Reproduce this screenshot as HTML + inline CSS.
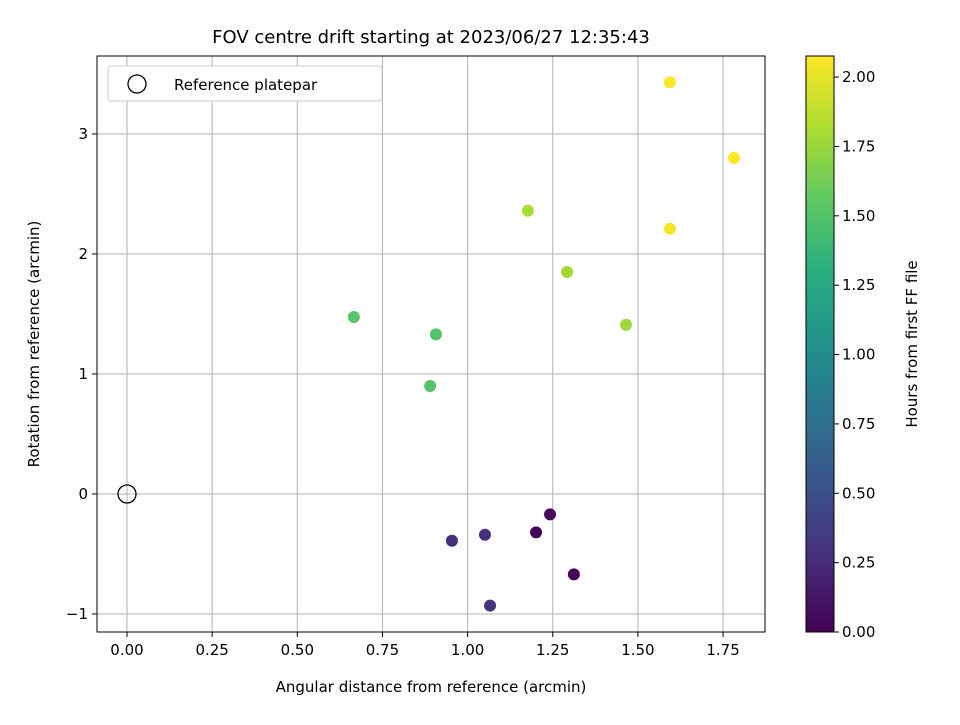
<!DOCTYPE html>
<html><head><meta charset="utf-8"><style>body{margin:0;background:#fff}text{font-family:"DejaVu Sans","Liberation Sans",sans-serif}</style></head>
<body>
<svg id="c" width="960" height="720" xmlns="http://www.w3.org/2000/svg">
<defs><linearGradient id="vir" x1="0" y1="1" x2="0" y2="0">
<stop offset="0" stop-color="#440154"/><stop offset="0.125" stop-color="#472d7b"/><stop offset="0.25" stop-color="#3b528b"/><stop offset="0.375" stop-color="#2c728e"/><stop offset="0.5" stop-color="#21918c"/><stop offset="0.625" stop-color="#28ae80"/><stop offset="0.75" stop-color="#5ec962"/><stop offset="0.875" stop-color="#addc30"/><stop offset="1" stop-color="#fde725"/></linearGradient></defs>
</svg>
<script>
const xs=[1.594,1.782,1.594,1.177,1.292,1.465,0.666,0.907,0.890,1.242,1.201,1.312,1.051,0.954,1.066];
const ys=[3.43,2.80,2.21,2.36,1.85,1.41,1.475,1.33,0.90,-0.17,-0.32,-0.67,-0.34,-0.39,-0.93];
const hrs=[2.07,2.07,2.05,1.80,1.78,1.77,1.52,1.50,1.50,0.05,0.03,0.02,0.28,0.27,0.30];
const xTicks=[0,0.25,0.5,0.75,1,1.25,1.5,1.75];
const yTicks=[-1,0,1,2,3];
const cTicks=[0,0.25,0.5,0.75,1,1.25,1.5,1.75,2];
const cMax=2.076;
const L=97,R=765,T=56,B=632;
const X=v=>127+v*340.6, Y=v=>494-v*120, C=v=>632-v*(576/cMax);
const svg=document.getElementById('c'),NS='http://www.w3.org/2000/svg';
function el(t,a,p){const e=document.createElementNS(NS,t);for(const k in a)e.setAttribute(k,a[k]);(p||svg).appendChild(e);return e;}
const vir=[[68,1,84],[71,45,123],[59,82,139],[44,114,142],[33,145,140],[40,174,128],[94,201,98],[173,220,48],[253,231,37]];
function col(v){let t=Math.max(0,Math.min(1,v/cMax))*8,i=Math.min(7,Math.floor(t)),f=t-i;const a=vir[i],b=vir[i+1];return 'rgb('+a.map((c,k)=>Math.round(c+(b[k]-c)*f)).join(',')+')';}
let g;
xTicks.forEach(v=>{g=el('line',{x1:X(v),x2:X(v),y1:T,y2:B,stroke:'#b0b0b0','stroke-width':1});
el('line',{x1:X(v),x2:X(v),y1:B,y2:B+5,stroke:'#000'});
g=el('text',{x:X(v),y:B+23,'text-anchor':'middle','font-size':'15'});g.textContent=v.toFixed(2);});
yTicks.forEach(v=>{g=el('line',{x1:L,x2:R,y1:Y(v),y2:Y(v),stroke:'#b0b0b0','stroke-width':1});
el('line',{x1:L-5,x2:L,y1:Y(v),y2:Y(v),stroke:'#000'});
g=el('text',{x:L-9,y:Y(v)+5,'text-anchor':'end','font-size':'15'});g.textContent=v<0?'\u2212'+(-v):v;});
g=el('circle',{cx:X(0),cy:Y(0),r:9,fill:'none',stroke:'#000','stroke-width':1.3});
xs.forEach((x,i)=>{g=el('circle',{cx:X(x),cy:Y(ys[i]),r:6,fill:col(hrs[i])});});
g=el('rect',{x:L,y:T,width:R-L,height:B-T,fill:'none',stroke:'#000'});
g=el('g',{});
el('rect',{x:108,y:66,width:274,height:35,rx:3,fill:'#fff',stroke:'#ccc'},g);
el('circle',{cx:137,cy:84,r:9,fill:'none',stroke:'#000','stroke-width':1.3},g);
const lt=el('text',{x:174,y:90,'font-size':'15'},g);lt.textContent='Reference platepar';
g=el('text',{x:431,y:43,'text-anchor':'middle','font-size':'18'});g.textContent='FOV centre drift starting at 2023/06/27 12:35:43';
g=el('text',{x:431,y:692,'text-anchor':'middle','font-size':'15'});g.textContent='Angular distance from reference (arcmin)';
g=el('text',{x:39,y:344,'text-anchor':'middle','font-size':'15',transform:'rotate(-90 39 344)'});g.textContent='Rotation from reference (arcmin)';
g=el('rect',{x:806,y:T,width:28,height:B-T,fill:'url(#vir)',stroke:'#000'});
cTicks.forEach(v=>{el('line',{x1:834,x2:839,y1:C(v),y2:C(v),stroke:'#000'});
g=el('text',{x:842,y:C(v)+5,'font-size':'15'});g.textContent=v.toFixed(2);});
g=el('text',{x:917,y:344,'text-anchor':'middle','font-size':'15',transform:'rotate(-90 917 344)'});g.textContent='Hours from first FF file';
</script>
</body></html>
